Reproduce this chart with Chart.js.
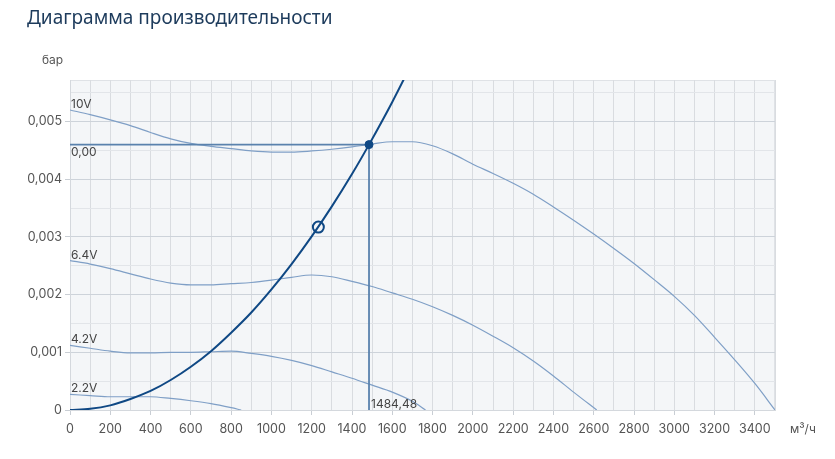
<!DOCTYPE html>
<html lang="ru">
<head>
  <meta charset="UTF-8">
  <title>Диаграмма производительности</title>
  <script src="https://cdn.jsdelivr.net/npm/chart.js"></script>
  <style>
    body { margin: 0; background: #fff; }
    .wrap { position: relative; width: 835px; height: 459px; }
    canvas { position: absolute; left: 0; top: 0; }
    .title {
      position: absolute; left: 27px; top: 7px;
      font-family: "Noto Sans", sans-serif; font-size: 19px; line-height: 20px;
      color: #1d3b5c; white-space: nowrap;
    }
    .unit {
      position: absolute; font-family: Inter, sans-serif; font-size: 12px;
      line-height: 14px; color: #555;
    }
  </style>
</head>
<body>
<div class="wrap">
  <canvas id="chart" width="835" height="459"></canvas>
  <div class="title">Диаграмма производительности</div>
  <div class="unit" style="left:42px; top:53px;">бар</div>
  <div class="unit" style="left:790px; top:422px;">м³/ч</div>
</div>

<script>
  // fan curves: flow (m3/h) and pressure (bar)
  const flow10 = [0, 100, 200, 300, 400, 500, 600, 700, 800, 900, 1000, 1100, 1200, 1300, 1400, 1500, 1600, 1700, 1800, 1900, 2000, 2100, 2200, 2300, 2400, 2500, 2600, 2700, 2800, 2900, 3000, 3100, 3200, 3300, 3400, 3500];
  const press10 = [0.0052, 0.00512, 0.00503, 0.00493, 0.00481, 0.0047, 0.00462, 0.00457, 0.00453, 0.00449, 0.00447, 0.00447, 0.00449, 0.00452, 0.00456, 0.00461, 0.00465, 0.00465, 0.00458, 0.00444, 0.00426, 0.0041, 0.00393, 0.00374, 0.00352, 0.00329, 0.00305, 0.0028, 0.00254, 0.00226, 0.00197, 0.00164, 0.00126, 0.00087, 0.00046, 0];

  const flow64 = [0, 100, 200, 300, 400, 500, 600, 700, 800, 900, 1000, 1100, 1200, 1300, 1400, 1500, 1600, 1700, 1800, 1900, 2000, 2100, 2200, 2300, 2400, 2500, 2615];
  const press64 = [0.00259, 0.00253, 0.00245, 0.00236, 0.00227, 0.0022, 0.00217, 0.00217, 0.00219, 0.00221, 0.00225, 0.0023, 0.00234, 0.00231, 0.00223, 0.00214, 0.00203, 0.00192, 0.00179, 0.00164, 0.00147, 0.00128, 0.00108, 0.00085, 0.00059, 0.00031, 0];

  const flow42 = [0, 100, 200, 300, 400, 500, 600, 700, 800, 900, 1000, 1100, 1200, 1300, 1400, 1500, 1600, 1700, 1765];
  const press42 = [0.00112, 0.00107, 0.00102, 0.00099, 0.00099, 0.001, 0.001, 0.00101, 0.00102, 0.00098, 0.00093, 0.00086, 0.00077, 0.00066, 0.00055, 0.00043, 0.00031, 0.00015, 0];

  const flow22 = [0, 100, 200, 300, 400, 500, 600, 700, 800, 850];
  const press22 = [0.00027, 0.00025, 0.00023, 0.00023, 0.00023, 0.0002, 0.00016, 0.00011, 0.00004, 0];

  // system curve
  const flowSys = [0, 100, 200, 300, 400, 500, 600, 700, 800, 900, 1000, 1100, 1200, 1300, 1400, 1484.48, 1600, 1700];
  const pressSys = [0, 0.00002, 0.00008, 0.00019, 0.00033, 0.00052, 0.00075, 0.00102, 0.00134, 0.00169, 0.00209, 0.00253, 0.00301, 0.00353, 0.00409, 0.0046, 0.00534, 0.00603];

  const curveNames = ['10V', '6.4V', '4.2V', '2.2V'];
  const opFlow = 1484.48;
  const opPress = 0.0046;
  const markFlow = 1233;
  const markPress = 0.00317;

  const xTicks = [0, 100, 200, 300, 400, 500, 600, 700, 800, 900, 1000, 1100, 1200, 1300, 1400, 1500, 1600, 1700, 1800, 1900, 2000, 2100, 2200, 2300, 2400, 2500, 2600, 2700, 2800, 2900, 3000, 3100, 3200, 3300, 3400, 3500];
  const yTicks = [0, 0.0005, 0.001, 0.0015, 0.002, 0.0025, 0.003, 0.0035, 0.004, 0.0045, 0.005, 0.0055];
  const yMax = 0.00572;

  const pts = (xs, ys) => xs.map((x, i) => ({ x: x, y: ys[i] }));
  const curveColor = '#7f9fc6';
  const navy = '#0f4884';
  const opColor = '#5a82ad';

  function curve(xs, ys) {
    return {
      data: pts(xs, ys),
      showLine: true,
      borderColor: curveColor,
      borderWidth: 1.2,
      pointRadius: 0,
      cubicInterpolationMode: 'monotone',
      order: 5
    };
  }

  const isMajor = v => Math.round(v * 10000) % 10 === 0;

  // plot background
  const bgPlugin = {
    id: 'bg',
    beforeDraw(chart) {
      const a = chart.chartArea, c = chart.ctx;
      c.save();
      c.fillStyle = '#f4f6f8';
      c.fillRect(a.left, a.top, a.right - a.left, a.bottom - a.top);
      c.strokeStyle = '#dfe2e6';
      c.lineWidth = 1;
      c.strokeRect(a.left + 0.5, a.top + 0.5, a.right - a.left - 1, a.bottom - a.top);
      c.restore();
    }
  };

  // curve names and operating point labels
  const labelPlugin = {
    id: 'labels',
    afterDatasetsDraw(chart) {
      const c = chart.ctx, xs = chart.scales.x, ys = chart.scales.y;
      c.save();
      c.font = '12px Inter, sans-serif';
      c.fillStyle = '#444';
      c.textBaseline = 'alphabetic';
      const starts = [press10[0], press64[0], press42[0], press22[0]];
      starts.forEach((p, i) => {
        c.fillText(curveNames[i], xs.getPixelForValue(0) + 1, ys.getPixelForValue(p) - 2);
      });
      c.textBaseline = 'top';
      c.fillText('0,00', xs.getPixelForValue(0) + 1, ys.getPixelForValue(opPress) + 2);
      c.textBaseline = 'alphabetic';
      c.fillText(String(opFlow).replace('.', ','), xs.getPixelForValue(opFlow) + 2, ys.getPixelForValue(0) - 2);
      c.restore();
    }
  };

  new Chart(document.getElementById('chart'), {
    type: 'scatter',
    data: {
      datasets: [
        curve(flow10, press10),
        curve(flow64, press64),
        curve(flow42, press42),
        curve(flow22, press22),
        {
          data: [{ x: 0, y: opPress }, { x: opFlow, y: opPress }],
          showLine: true, borderColor: opColor, borderWidth: 1.8, pointRadius: 0, order: 4
        },
        {
          data: [{ x: opFlow, y: 0 }, { x: opFlow, y: opPress }],
          showLine: true, borderColor: opColor, borderWidth: 1.8, pointRadius: 0, order: 4
        },
        {
          data: pts(flowSys, pressSys),
          showLine: true, borderColor: navy, borderWidth: 2, pointRadius: 0,
          cubicInterpolationMode: 'monotone', order: 3
        },
        {
          data: [{ x: opFlow, y: opPress }],
          pointRadius: 4, backgroundColor: navy, borderColor: navy, order: 1
        },
        {
          data: [{ x: markFlow, y: markPress }],
          pointRadius: 5.5, backgroundColor: 'rgba(0,0,0,0)', borderColor: navy, borderWidth: 2, order: 1
        }
      ]
    },
    options: {
      responsive: false,
      animation: false,
      layout: { padding: { top: 80, right: 60, left: 0, bottom: 0 } },
      plugins: { legend: { display: false }, tooltip: { enabled: false } },
      scales: {
        x: {
          type: 'linear', min: 0, max: 3500,
          afterBuildTicks: s => { s.ticks = xTicks.map(v => ({ value: v })); },
          afterFit: s => { s.height = 49; },
          grid: {
            color: '#d9dce0',
            tickColor: ctx => (ctx.tick && ctx.tick.value % 200 === 0 && ctx.tick.value < 3500) ? '#c9ced4' : 'rgba(0,0,0,0)',
            tickLength: 5
          },
          border: { color: '#d4d8dd' },
          ticks: {
            autoSkip: false, maxRotation: 0, padding: 7,
            color: '#555', font: { family: 'Inter', size: 12.5 },
            callback: v => (v % 200 === 0 && v < 3500) ? String(v) : ''
          }
        },
        y: {
          type: 'linear', min: 0, max: yMax,
          afterBuildTicks: s => { s.ticks = yTicks.map(v => ({ value: v })); },
          afterFit: s => { s.width = 70; },
          grid: {
            color: ctx => (ctx.tick && isMajor(ctx.tick.value)) ? '#cdd3da' : '#e2e5e9',
            tickColor: ctx => (ctx.tick && isMajor(ctx.tick.value)) ? '#c9ced4' : 'rgba(0,0,0,0)',
            tickLength: 5
          },
          border: { color: '#d4d8dd' },
          ticks: {
            autoSkip: false, padding: 3,
            color: '#555', font: { family: 'Inter', size: 12.5 },
            callback: v => isMajor(v) ? (v === 0 ? '0' : v.toFixed(3).replace('.', ',')) : ''
          }
        }
      }
    },
    plugins: [bgPlugin, labelPlugin]
  });
</script>
</body>
</html>
